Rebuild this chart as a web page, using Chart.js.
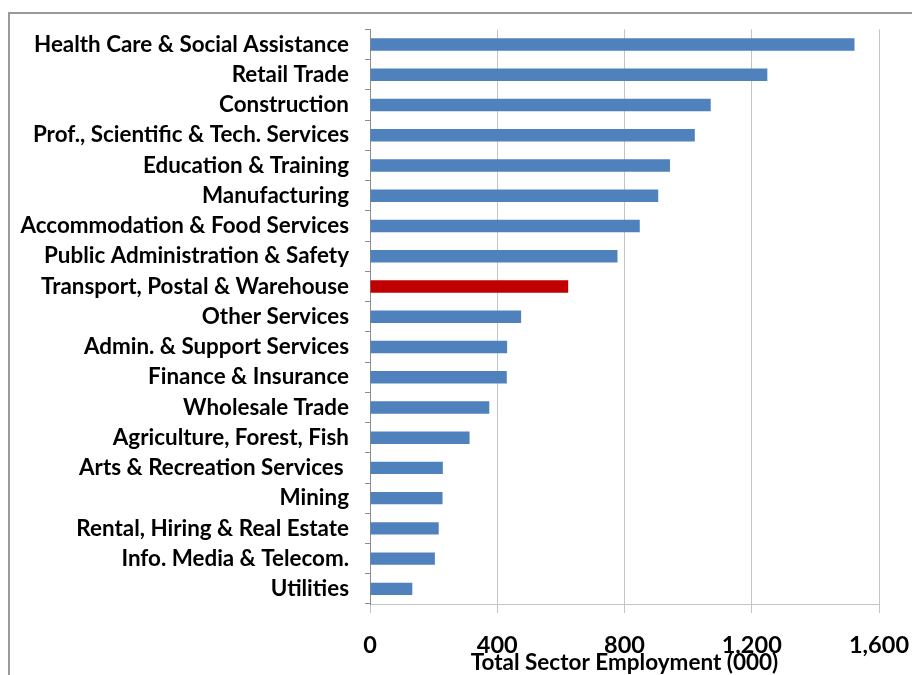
<!DOCTYPE html>
<html>
<head>
<meta charset="utf-8">
<title>Total Sector Employment</title>
<script src="https://cdn.jsdelivr.net/npm/chart.js@4/dist/chart.umd.min.js"></script>
<style>
  html, body { margin: 0; padding: 0; background: #ffffff; overflow: hidden; }
  #wrap { position: relative; width: 912px; height: 675px; }
  #frame {
    position: absolute; left: 8px; top: 12px; width: 1000px; height: 1000px;
    border: 2px solid #9a9a9a; box-sizing: border-box;
  }
  #chart { position: absolute; left: 0; top: 0; }
</style>
</head>
<body>
<div id="wrap">
  <div id="frame"></div>
  <canvas id="chart" width="912" height="675"></canvas>
</div>
<script>
// Employment by industry sector, thousands of persons
const sectors = [
  'Health Care & Social Assistance',
  'Retail Trade',
  'Construction',
  'Prof., Scientific & Tech. Services',
  'Education & Training',
  'Manufacturing',
  'Accommodation & Food Services',
  'Public Administration & Safety',
  'Transport, Postal & Warehouse',
  'Other Services',
  'Admin. & Support Services',
  'Finance & Insurance',
  'Wholesale Trade',
  'Agriculture, Forest, Fish',
  'Arts & Recreation Services ',
  'Mining',
  'Rental, Hiring & Real Estate',
  'Info. Media & Telecom.',
  'Utilities'
];
const employment = [1523, 1249, 1071, 1021, 943, 906, 848, 778, 623, 475, 431, 430, 375, 313, 229, 228, 216, 204, 133];
const highlightedSector = 'Transport, Postal & Warehouse';
const xTickValues = [0, 400, 800, 1200, 1600];
const xTickLabels = ['0', '400', '800', '1,200', '1,600'];
const xAxisTitle = 'Total Sector Employment (000)';

const barColors = sectors.map(s => s === highlightedSector ? '#C00000' : '#4F81BD');

new Chart(document.getElementById('chart'), {
  type: 'bar',
  data: {
    labels: sectors,
    datasets: [{
      data: employment,
      backgroundColor: barColors,
      borderWidth: 0,
      barPercentage: 0.41,
      categoryPercentage: 1.0
    }]
  },
  options: {
    indexAxis: 'y',
    responsive: false,
    animation: false,
    layout: { padding: { top: 28, right: 33, left: 0, bottom: 0 } },
    plugins: { legend: { display: false }, tooltip: { enabled: false } },
    scales: {
      x: {
        min: 0,
        max: 1600,
        afterBuildTicks: scale => { scale.ticks = xTickValues.map(v => ({ value: v })); },
        afterFit: scale => {
          scale.height = 71;
          scale.paddingLeft = 0;
          scale.paddingRight = 0;
        },
        ticks: {
          callback: (v, i) => xTickLabels[i],
          color: '#000000',
          font: { family: 'Lato', size: 23.5, weight: 'bold' },
          padding: 18,
          maxRotation: 0
        },
        grid: { color: '#c4c4c4', lineWidth: 1, tickLength: 9 },
        border: { color: '#c4c4c4', width: 1 },
        title: {
          display: true,
          text: xAxisTitle,
          color: '#000000',
          font: { family: 'Lato', size: 22.5, weight: 'bold' },
          padding: { top: 0, bottom: -1 }
        }
      },
      y: {
        afterFit: scale => { scale.width = 370; },
        ticks: {
          color: '#000000',
          font: { family: 'Lato', size: 22.4, weight: 'bold' },
          padding: 16
        },
        grid: { drawOnChartArea: false, color: '#8c8c8c', tickLength: 5, offset: true },
        border: { color: '#8c8c8c', width: 1 }
      }
    }
  }
});
</script>
</body>
</html>
